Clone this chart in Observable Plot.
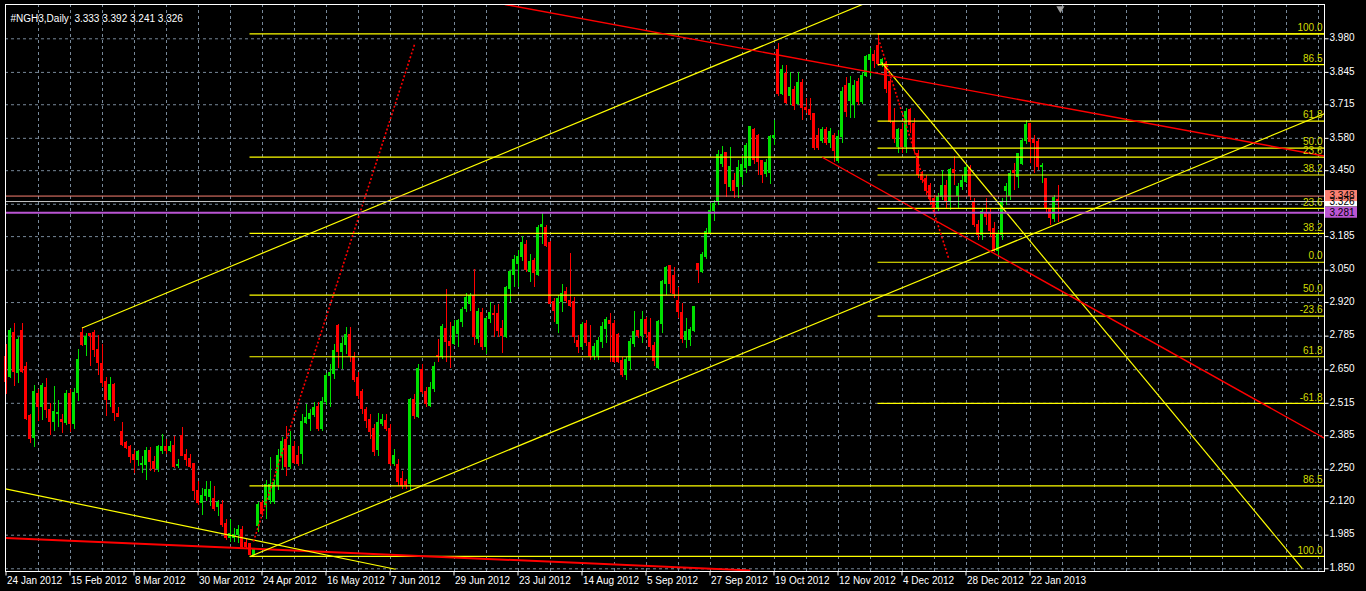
<!DOCTYPE html>
<html><head><meta charset="utf-8">
<script src="https://cdn.jsdelivr.net/npm/d3@7"></script>
<script src="https://cdn.jsdelivr.net/npm/@observablehq/plot@0.6"></script>
<style>html,body{margin:0;padding:0;background:#000;overflow:hidden}</style>
</head><body><div id="chart"></div>
<script>
// ---------- DATA ----------
const symbolTitle = "#NGH3,Daily";
const lastOHLC = ["3.333", "3.392", "3.241", "3.326"];

const opens = [
2.700,2.620,2.796,2.636,2.807,2.660,2.466,2.375,2.553,2.502,
2.575,2.490,2.439,2.473,2.446,2.435,2.553,2.430,2.556,2.797,
2.751,2.792,2.797,2.730,2.674,2.600,2.529,2.587,2.474,2.399,
2.355,2.339,2.309,2.288,2.268,2.268,2.322,2.278,2.252,2.322,
2.338,2.322,2.345,2.262,2.383,2.309,2.290,2.272,2.162,2.113,
2.141,2.138,2.132,2.098,2.108,2.028,1.975,1.975,1.984,2.007,
1.953,1.948,1.905,2.020,2.113,2.108,2.125,2.117,2.185,2.305,
2.368,2.258,2.338,2.305,2.312,2.434,2.450,2.470,2.500,2.413,
2.520,2.623,2.634,2.825,2.720,2.751,2.790,2.700,2.617,2.560,
2.489,2.449,2.413,2.326,2.430,2.443,2.413,2.272,2.268,2.210,
2.200,2.191,2.529,2.462,2.650,2.560,2.506,2.571,2.707,2.700,
2.815,2.763,2.754,2.792,2.841,2.895,2.915,2.948,2.774,2.877,
2.740,2.852,2.876,2.872,2.815,2.783,2.975,3.029,3.073,3.105,
3.153,3.042,3.089,3.029,3.222,3.219,3.158,2.921,2.835,2.921,
2.962,2.928,2.924,2.767,2.743,2.832,2.757,2.707,2.707,2.761,
2.815,2.845,2.832,2.791,2.684,2.627,2.687,2.754,2.804,2.787,
2.851,2.797,2.747,2.658,2.832,2.995,3.065,3.025,2.925,2.877,
2.770,2.770,2.805,3.073,3.042,3.105,3.199,3.287,3.323,3.475,
3.520,3.384,3.410,3.383,3.425,3.460,3.470,3.614,3.591,3.487,
3.435,3.439,3.580,3.934,3.759,3.840,3.752,3.776,3.720,3.804,
3.700,3.692,3.676,3.588,3.568,3.612,3.560,3.588,3.488,3.584,
3.792,3.732,3.713,3.806,3.725,3.832,3.896,3.913,3.953,3.873,
3.880,3.806,3.645,3.545,3.612,3.544,3.692,3.638,3.518,3.431,
3.417,3.390,3.337,3.297,3.343,3.390,3.323,3.451,3.350,3.386,
3.406,3.462,3.323,3.230,3.190,3.277,3.277,3.216,3.129,3.190,
3.370,3.350,3.447,3.424,3.478,3.571,3.638,3.574,3.564,3.464,
3.415,3.297,3.257,3.333];

const highs = [
2.750,2.815,2.836,2.780,2.837,2.680,2.470,2.586,2.569,2.595,
2.615,2.514,2.583,2.526,2.470,2.565,2.569,2.575,2.731,2.820,
2.796,2.797,2.807,2.787,2.750,2.620,2.620,2.595,2.500,2.439,
2.360,2.345,2.325,2.325,2.300,2.338,2.338,2.300,2.345,2.390,
2.370,2.360,2.380,2.290,2.419,2.330,2.310,2.272,2.200,2.172,
2.200,2.200,2.180,2.125,2.125,2.050,2.048,2.010,2.024,2.020,
1.970,1.953,1.930,2.117,2.125,2.205,2.298,2.205,2.330,2.379,
2.420,2.400,2.360,2.340,2.470,2.510,2.490,2.520,2.520,2.540,
2.635,2.670,2.750,2.830,2.780,2.820,2.820,2.720,2.640,2.570,
2.500,2.470,2.430,2.475,2.470,2.470,2.430,2.330,2.290,2.240,
2.210,2.535,2.550,2.670,2.670,2.580,2.600,2.680,2.770,2.830,
2.971,2.841,2.848,2.850,2.901,2.955,2.955,3.052,2.895,2.895,
2.860,2.921,2.908,2.912,2.848,2.984,3.049,3.109,3.129,3.185,
3.169,3.113,3.096,3.230,3.279,3.230,3.165,2.935,2.948,2.992,
2.982,3.118,2.942,2.787,2.841,2.848,2.828,2.754,2.781,2.841,
2.861,2.875,2.848,2.794,2.700,2.700,2.774,2.885,2.808,2.885,
2.861,2.855,2.761,2.848,3.009,3.065,3.069,3.060,2.982,2.915,
2.855,2.821,2.905,3.078,3.122,3.216,3.317,3.330,3.530,3.547,
3.524,3.543,3.440,3.490,3.511,3.560,3.628,3.620,3.595,3.490,
3.495,3.592,3.652,3.961,3.873,3.873,3.845,3.788,3.845,3.816,
3.740,3.740,3.680,3.620,3.624,3.624,3.620,3.600,3.612,3.784,
3.824,3.828,3.812,3.820,3.845,3.913,3.941,3.933,4.000,3.900,
3.890,3.815,3.700,3.620,3.640,3.700,3.700,3.660,3.530,3.445,
3.430,3.400,3.350,3.360,3.450,3.410,3.460,3.505,3.400,3.430,
3.470,3.470,3.340,3.250,3.300,3.340,3.300,3.240,3.210,3.340,
3.400,3.450,3.480,3.520,3.580,3.650,3.640,3.590,3.574,3.480,
3.420,3.300,3.350,3.392];

const lows = [
2.550,2.615,2.583,2.595,2.635,2.446,2.352,2.336,2.443,2.446,
2.454,2.386,2.403,2.419,2.394,2.426,2.399,2.410,2.523,2.743,
2.705,2.663,2.700,2.627,2.580,2.462,2.500,2.443,2.460,2.340,
2.330,2.272,2.232,2.260,2.232,2.205,2.240,2.236,2.236,2.310,
2.310,2.318,2.255,2.255,2.300,2.260,2.255,2.125,2.104,2.064,
2.120,2.100,2.080,2.060,2.017,1.963,1.957,1.955,1.950,1.930,
1.930,1.902,1.902,1.997,2.060,2.048,2.110,2.110,2.165,2.246,
2.220,2.250,2.270,2.260,2.270,2.430,2.400,2.460,2.400,2.400,
2.506,2.500,2.610,2.655,2.650,2.710,2.680,2.600,2.530,2.470,
2.413,2.370,2.300,2.300,2.420,2.400,2.260,2.260,2.180,2.170,
2.170,2.165,2.450,2.455,2.550,2.500,2.500,2.560,2.680,2.690,
2.680,2.654,2.747,2.740,2.821,2.881,2.885,2.747,2.754,2.727,
2.711,2.835,2.781,2.781,2.716,2.774,2.921,2.982,2.982,3.086,
3.042,3.002,2.979,3.025,3.153,3.142,2.912,2.841,2.797,2.881,
2.917,2.901,2.754,2.714,2.727,2.743,2.687,2.687,2.687,2.734,
2.754,2.680,2.674,2.674,2.620,2.607,2.647,2.740,2.774,2.754,
2.774,2.727,2.663,2.650,2.797,2.948,2.955,2.935,2.855,2.754,
2.734,2.743,2.800,2.998,3.035,3.092,3.193,3.247,3.310,3.463,
3.344,3.366,3.340,3.338,3.390,3.440,3.467,3.475,3.430,3.399,
3.423,3.395,3.551,3.748,3.752,3.716,3.712,3.692,3.712,3.652,
3.680,3.652,3.531,3.531,3.559,3.551,3.540,3.483,3.479,3.559,
3.664,3.660,3.660,3.712,3.716,3.824,3.828,3.860,3.869,3.865,
3.760,3.640,3.560,3.520,3.520,3.520,3.600,3.520,3.420,3.400,
3.350,3.310,3.280,3.285,3.330,3.300,3.290,3.390,3.300,3.370,
3.400,3.330,3.220,3.170,3.170,3.230,3.180,3.120,3.110,3.170,
3.310,3.330,3.370,3.380,3.470,3.555,3.480,3.440,3.450,3.400,
3.280,3.230,3.240,3.241];

const closes = [
2.600,2.805,2.640,2.771,2.640,2.453,2.372,2.560,2.502,2.583,
2.490,2.439,2.479,2.478,2.439,2.553,2.430,2.557,2.690,2.751,
2.780,2.784,2.730,2.676,2.596,2.529,2.587,2.475,2.462,2.349,
2.336,2.301,2.288,2.318,2.272,2.322,2.278,2.252,2.338,2.338,
2.322,2.341,2.258,2.266,2.305,2.288,2.258,2.164,2.113,2.144,
2.168,2.165,2.091,2.113,2.024,1.975,1.991,1.984,2.005,1.937,
1.937,1.905,1.925,2.108,2.070,2.185,2.185,2.193,2.305,2.359,
2.258,2.342,2.274,2.272,2.439,2.458,2.474,2.497,2.413,2.520,
2.623,2.636,2.727,2.720,2.754,2.790,2.707,2.609,2.546,2.493,
2.443,2.399,2.318,2.435,2.446,2.413,2.272,2.305,2.198,2.183,
2.185,2.529,2.466,2.654,2.560,2.513,2.577,2.660,2.700,2.821,
2.760,2.747,2.821,2.845,2.892,2.937,2.948,2.783,2.881,2.740,
2.852,2.880,2.868,2.805,2.787,2.978,3.042,3.093,3.105,3.158,
3.049,3.082,3.038,3.219,3.232,3.149,2.915,2.885,2.935,2.955,
2.925,2.908,2.781,2.740,2.828,2.757,2.707,2.740,2.765,2.821,
2.848,2.835,2.680,2.680,2.627,2.690,2.761,2.801,2.785,2.851,
2.794,2.740,2.684,2.841,3.002,3.057,2.995,2.955,2.881,2.774,
2.801,2.810,2.901,3.049,3.113,3.203,3.287,3.317,3.515,3.515,
3.397,3.463,3.370,3.459,3.471,3.550,3.625,3.491,3.484,3.431,
3.479,3.585,3.588,3.759,3.853,3.724,3.784,3.708,3.804,3.700,
3.692,3.672,3.540,3.543,3.612,3.560,3.604,3.531,3.584,3.768,
3.684,3.800,3.792,3.725,3.832,3.906,3.913,3.890,3.879,3.893,
3.780,3.644,3.578,3.612,3.544,3.685,3.632,3.538,3.431,3.411,
3.370,3.337,3.297,3.343,3.390,3.330,3.451,3.440,3.386,3.410,
3.462,3.350,3.230,3.190,3.283,3.263,3.209,3.129,3.190,3.323,
3.383,3.437,3.440,3.518,3.571,3.632,3.566,3.560,3.464,3.470,
3.297,3.261,3.340,3.326];

// date labels, one every 16 bars starting with bar 0
const dateLabels = ["24 Jan 2012","15 Feb 2012","8 Mar 2012","30 Mar 2012","24 Apr 2012",
  "16 May 2012","7 Jun 2012","29 Jun 2012","23 Jul 2012","14 Aug 2012","5 Sep 2012",
  "27 Sep 2012","19 Oct 2012","12 Nov 2012","4 Dec 2012","28 Dec 2012","22 Jan 2013"];
const dateLabelStep = 16;
const gridBarStep = 8;

// price axis tick labels
const priceTickLabels = ["3.980","3.845","3.715","3.580","3.450","3.315","3.185","3.050",
  "2.920","2.785","2.650","2.515","2.385","2.250","2.120","1.985","1.850"];

// Fibonacci retracement A (2012 high -> low), starts at the April low bar
const fibALevels = [0, 23.6, 38.2, 50, 61.8, 86.5, 100];
const fibAFrom = 4.000, fibATo = 1.900, fibAStartBar = 61;
// Fibonacci retracement B (late Dec low -> Nov high), starts at the Nov high bar
const fibBLevels = [-61.8, -23.6, 0, 23.6, 38.2, 50, 61.8, 86.5, 100];
const fibBZero = 3.082, fibBHundred = 4.000, fibBStartBar = 218;

// horizontal price lines with right-hand labels
const priceLines = [
  {price: 3.326, label: "3.326", color: "#c8c8c8", box: "#ffffff", width: 1},
  {price: 3.348, label: "3.348", color: "#fa8072", box: "#fa8072", width: 1},
  {price: 3.281, label: "3.281", color: "#ba55d3", box: "#ba55d3", width: 2}
];

// trend lines: [barIndex, price] anchors
const yellowLines = [
  {a: [19, 2.818], b: [214.1, 4.118]},
  {a: [61, 1.899], b: [329.6, 3.679]},
  {a: [218.9, 3.885], b: [324.1, 1.851]},
  {a: [-0.125, 2.171], b: [97.4, 1.848]}
];
const redLines = [
  {a: [124.7, 4.118], b: [329.6, 3.509]},
  {a: [204.05, 3.504], b: [329.6, 2.375]}
];
const redThickLines = [{a: [-0.125, 1.974], b: [186.1, 1.8435]}];
const redDottedLines = [
  {a: [61.875, 1.960], b: [102.25, 3.963]},
  {a: [218.1, 3.981], b: [235.7, 3.096]}
];

// ---------- CHART ----------
const bars = opens.map((o, i) => ({i, o, h: highs[i], l: lows[i], c: closes[i], up: closes[i] >= o}));
const xDomain = [-0.125, 329.625];
const yDomain = [1.8391, 4.1179];
const L = 5, R = 1324, T = 4, B = 571;
const pxX = (xDomain[1] - xDomain[0]) / (R - L);
const pxY = (yDomain[1] - yDomain[0]) / (B - T);

const priceTicks = priceTickLabels.map((t) => ({v: Number(t), t}));
// tick labels hidden behind the price-line labels are not drawn
const visibleTicks = priceTicks.filter(d => !priceLines.some(p => Math.abs(p.price - d.v) < 9 * pxY));
const gridBars = d3.range(gridBarStep, xDomain[1], gridBarStep);
const dateTicks = dateLabels.map((t, k) => ({t, i: k * dateLabelStep}));
const fibA = fibALevels.map(r => ({r, p: fibAFrom - r / 100 * (fibAFrom - fibATo), s: fibAStartBar}));
const fibB = fibBLevels.map(r => ({r, p: fibBZero + r / 100 * (fibBHundred - fibBZero), s: fibBStartBar}));
const fibAll = fibA.concat(fibB);
// a label that coincides with another fib's label is covered by it
const fibLabels = fibAll.filter((d, k) => !fibAll.some((e, j) => j > k && Math.abs(e.p - d.p) < 2 * pxY));

const GREEN = "#00e000", RED = "#ff0000", GRID = "#778899", FIBTXT = "#d4dc00";
const link = (data, opts) => Plot.link(data, {x1: d => d.a[0], y1: d => d.a[1], x2: d => d.b[0], y2: d => d.b[1], clip: true, ...opts});

const chart = Plot.plot({
  width: 1366, height: 591,
  marginLeft: L, marginRight: 1366 - R, marginTop: T, marginBottom: 591 - B,
  x: {domain: xDomain, range: [L, R], axis: null},
  y: {domain: yDomain, range: [B, T], axis: null},
  style: {background: "#000", color: "#fff", fontFamily: "'Liberation Sans', Arial, sans-serif", fontSize: "10px", overflow: "visible"},
  marks: [
    // grid
    Plot.ruleX(gridBars, {x: d => d, y1: yDomain[0], y2: yDomain[1], stroke: GRID, strokeDasharray: "3,3", shapeRendering: "crispEdges"}),
    Plot.ruleY(priceTicks, {y: "v", x1: xDomain[0], x2: xDomain[1], stroke: GRID, strokeDasharray: "3,3"}),
    // candles
    Plot.ruleX(bars, {x: "i", y1: "l", y2: "h", stroke: d => d.up ? GREEN : RED, shapeRendering: "crispEdges"}),
    Plot.rect(bars, {x1: d => d.i - 0.375, x2: d => d.i + 0.375, y1: d => Math.min(d.o, d.c), y2: d => Math.max(d.o, d.c),
      fill: d => d.up ? GREEN : RED, insetTop: -0.5, insetBottom: -0.5, shapeRendering: "crispEdges"}),
    // fibonacci levels
    Plot.ruleY(fibAll, {y: "p", x1: "s", x2: xDomain[1], stroke: "#ffff00", strokeWidth: 1.2, clip: true}),
    // trend lines
    link(redThickLines, {stroke: RED, strokeWidth: 2}),
    link(yellowLines, {stroke: "#ffff00", strokeWidth: 1.2}),
    link(redLines, {stroke: RED, strokeWidth: 1.4}),
    link(redDottedLines, {stroke: RED, strokeWidth: 1.6, strokeDasharray: "2,2"}),
    // price lines
    Plot.ruleY(priceLines, {y: "price", x1: xDomain[0], x2: xDomain[1], stroke: "color", strokeWidth: "width"}),
    // frame
    Plot.frame({stroke: "#fff", shapeRendering: "crispEdges"}),
    // fib labels
    Plot.text(fibLabels, {x: xDomain[1], y: "p", text: d => d.r.toFixed(1), textAnchor: "end", dx: -2, dy: -6, fill: FIBTXT, fontSize: 10}),
    // right axis ticks & labels
    Plot.link(priceTicks, {x1: xDomain[1], x2: xDomain[1] + 4 * pxX, y1: "v", y2: "v", stroke: "#fff"}),
    Plot.text(visibleTicks, {x: xDomain[1], y: "v", text: "t", textAnchor: "start", dx: 5, dy: -1, fill: "#fff", fontSize: 10}),
    // price labels
    Plot.rect(priceLines, {x1: xDomain[1] + 1 * pxX, x2: xDomain[1] + 33 * pxX, y1: d => d.price - 5.5 * pxY, y2: d => d.price + 5.5 * pxY, fill: "box"}),
    Plot.text(priceLines, {x: xDomain[1], y: "price", text: "label", textAnchor: "start", dx: 5, fill: "#000", fontSize: 10}),
    // date axis
    Plot.link(dateTicks, {x1: "i", x2: "i", y1: yDomain[0], y2: yDomain[0] - 4 * pxY, stroke: "#fff"}),
    Plot.text(dateTicks, {x: "i", y: yDomain[0], text: "t", textAnchor: "start", dx: 1, dy: 9, fill: "#fff", fontSize: 10}),
    // header
    Plot.text([symbolTitle + "\u00a0 " + lastOHLC.join(" ")], {frameAnchor: "top-left", dx: 5, dy: 10, fill: "#fff", fontSize: 10, textAnchor: "start"}),
    // chart shift marker
    Plot.dot([{i: bars.length - 0.4}], {x: "i", frameAnchor: "top", dy: 4, symbol: "triangle", rotate: 180, r: 3, fill: "#a0a0a0"})
  ]
});
document.getElementById("chart").appendChild(chart);
</script>
</body></html>
